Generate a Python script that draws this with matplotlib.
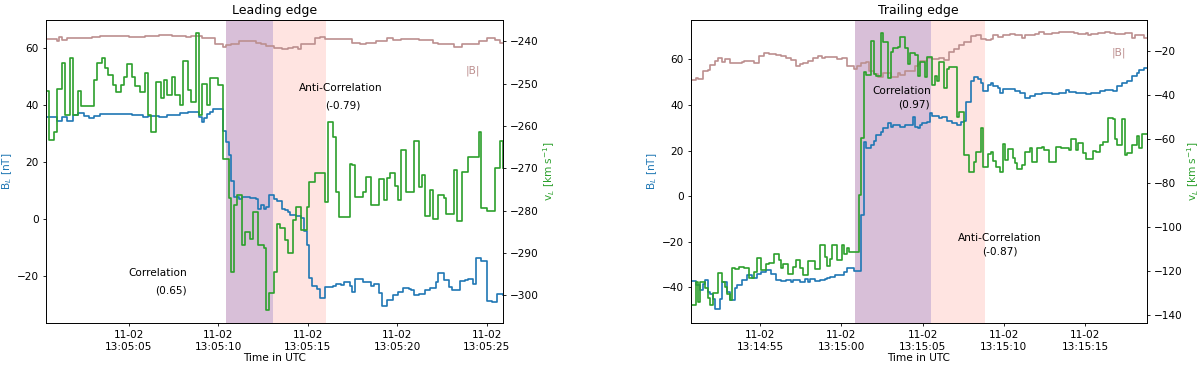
import numpy as np
import matplotlib
matplotlib.use('Agg')
import matplotlib.pyplot as plt
import matplotlib.dates as mdates

plt.rcParams['font.size'] = 7.6
plt.rcParams['axes.titlesize'] = 9
plt.rcParams['lines.linewidth'] = 1.2
plt.rcParams['axes.linewidth'] = 0.6
for a in ('xtick', 'ytick'):
    plt.rcParams[a + '.major.size'] = 2.5
    plt.rcParams[a + '.major.width'] = 0.6
    plt.rcParams[a + '.major.pad'] = 2.5

# ---------------- data: leading edge (150 ms cadence) ----------------
lead_start = '2015-11-02T13:05:00.380'
lead_vL = [
    -251.8, -263.3, -263.3, -261.5, -251.2, -251.2, -245.1, -257.5, -257.5, -243.9,
    -257.5, -257.5, -251.8, -255.3, -255.3, -255.3, -255.3, -255.3, -249.2, -245.1,
    -245.1, -243.9, -246.4, -247.9, -247.9, -250.4, -252.0, -252.0, -250.4, -248.4,
    -245.5, -245.5, -248.4, -250.5, -250.5, -252.0, -252.0, -247.6, -257.5, -261.5,
    -261.5, -249.6, -249.6, -253.4, -249.2, -252.6, -252.6, -248.4, -252.7, -252.7,
    -255.1, -244.7, -244.7, -251.6, -254.3, -254.3, -238.2, -257.5, -250.0, -250.0,
    -255.1, -248.6, -248.6, -248.6, -250.4, -250.4, -267.7, -267.7, -277.0, -294.4,
    -278.7, -276.3, -276.3, -288.1, -285.0, -285.0, -286.7, -280.3, -280.3, -288.0,
    -288.0, -288.9, -303.4, -299.5, -299.5, -294.4, -283.2, -284.2, -284.2, -287.0,
    -290.1, -290.1, -282.2, -279.1, -279.1, -284.6, -284.6, -279.1, -273.2, -273.2,
    -271.2, -271.2, -271.2, -271.2, -277.9, -259.0, -259.0, -262.6, -275.5, -281.4,
    -281.4, -281.4, -281.4, -269.0, -269.2, -276.7, -276.7, -276.7, -275.5, -272.0,
    -272.0, -278.7, -278.7, -278.7, -272.6, -272.6, -277.5, -272.4, -271.0, -271.0,
    -274.1, -277.5, -265.7, -265.7, -275.5, -275.5, -275.5, -263.6, -263.6, -274.4,
    -271.6, -281.2, -281.2, -275.1, -282.0, -282.0, -276.2, -276.2, -277.1, -280.9,
    -280.9, -280.9, -270.4, -282.5, -282.5, -270.8, -270.8, -267.3, -267.3, -267.3,
    -267.3, -261.4, -279.3, -279.3, -280.1, -280.1, -280.1, -270.0, -270.0, -263.6,
    -270.0,
]
lead_BL = [
    35.8, 35.8, 35.8, 35.8, 34.4, 34.4, 36.0, 36.0, 34.3, 34.3,
    36.5, 36.5, 37.2, 37.2, 36.1, 36.1, 35.6, 35.6, 36.2, 36.2,
    36.9, 36.9, 36.9, 36.9, 36.9, 37.0, 37.0, 37.0, 37.0, 37.0,
    37.0, 37.0, 36.6, 36.6, 36.6, 36.6, 35.9, 35.9, 36.2, 36.2,
    36.2, 36.2, 35.8, 35.8, 35.8, 36.6, 36.6, 36.6, 36.6, 36.6,
    37.2, 37.2, 37.2, 37.6, 37.6, 37.6, 37.6, 36.0, 34.0, 35.6,
    36.8, 37.7, 38.5, 38.5, 38.8, 38.5, 30.9, 27.0, 22.7, 13.3,
    7.7, 7.7, 7.3, 7.7, 7.7, 7.7, 7.5, 7.5, 7.1, 3.5,
    4.9, 3.8, 4.5, 8.4, 8.4, 7.2, 6.5, 6.3, 3.8, 3.3,
    2.6, 1.6, 1.6, 1.1, 1.1, 0.3, -4.2, -8.9, -20.6, -23.5,
    -23.5, -24.5, -27.5, -27.5, -23.7, -23.7, -23.7, -23.5, -22.7, -22.7,
    -22.9, -21.8, -21.8, -23.5, -25.5, -21.0, -21.0, -21.0, -21.8, -21.8,
    -21.8, -23.2, -22.7, -22.7, -25.8, -30.5, -30.5, -28.2, -28.2, -26.5,
    -26.5, -25.3, -25.3, -24.1, -24.1, -24.3, -24.8, -26.5, -26.5, -26.0,
    -26.0, -24.8, -24.8, -24.1, -24.1, -21.8, -18.8, -18.8, -21.3, -21.3,
    -23.7, -24.8, -24.8, -24.8, -21.6, -21.6, -21.3, -20.8, -20.8, -22.7,
    -13.5, -13.5, -14.6, -14.6, -28.6, -28.6, -29.0, -29.0, -26.1, -26.1,
    -26.5,
]
lead_Bmag = [
    63.1, 63.1, 63.1, 63.1, 62.5, 63.9, 62.7, 62.9, 63.4, 63.4,
    63.6, 63.6, 63.6, 63.6, 63.6, 63.6, 63.6, 63.9, 63.9, 63.9,
    64.1, 64.1, 64.1, 64.1, 64.1, 64.2, 64.2, 64.2, 64.2, 64.1,
    64.1, 63.9, 63.9, 63.9, 63.9, 63.9, 63.9, 64.3, 64.3, 64.3,
    64.3, 64.3, 64.6, 64.6, 64.6, 64.6, 64.6, 64.2, 64.2, 64.2,
    64.2, 64.2, 63.9, 63.9, 64.1, 64.1, 64.1, 64.1, 63.4, 63.4,
    63.4, 63.4, 63.4, 61.3, 61.3, 61.3, 60.4, 61.1, 61.1, 61.5,
    61.5, 61.5, 62.3, 62.3, 62.3, 62.3, 62.5, 62.5, 61.9, 61.9,
    61.3, 61.3, 60.7, 60.7, 60.7, 60.1, 60.1, 60.1, 59.7, 59.7,
    60.1, 60.1, 60.5, 60.5, 59.8, 61.5, 61.5, 61.5, 61.5, 61.5,
    63.4, 63.4, 63.9, 63.9, 63.0, 63.0, 63.0, 63.0, 63.0, 63.0,
    63.0, 63.0, 63.0, 63.0, 61.9, 61.9, 61.9, 61.3, 61.3, 61.9,
    61.9, 61.9, 61.9, 62.5, 62.5, 62.5, 62.5, 63.4, 63.4, 62.7,
    62.7, 62.7, 63.1, 63.1, 63.1, 63.1, 63.1, 63.1, 63.1, 62.7,
    62.7, 62.7, 62.7, 62.7, 61.7, 61.7, 61.5, 61.5, 61.5, 61.5,
    61.5, 61.5, 60.5, 60.5, 60.5, 61.5, 61.5, 61.5, 61.5, 61.5,
    61.5, 62.3, 62.3, 62.3, 63.4, 63.4, 63.4, 62.7, 62.7, 61.9,
    61.9,
]

# ---------------- data: trailing edge (150 ms cadence) ----------------
trail_start = '2015-11-02T13:14:50.740'
trail_vL = [
    -135.6, -135.6, -125.0, -134.1, -125.0, -125.0, -128.0, -132.6, -135.6, -130.3,
    -130.3, -121.2, -121.2, -125.0, -127.5, -130.6, -133.3, -118.9, -119.2, -119.2,
    -118.2, -118.2, -118.9, -118.9, -123.4, -123.4, -120.4, -114.0, -114.0, -119.6,
    -119.6, -117.0, -116.6, -116.6, -112.5, -112.5, -115.1, -118.9, -117.0, -117.0,
    -121.6, -121.6, -118.2, -115.1, -115.1, -118.9, -121.9, -121.9, -115.8, -115.8,
    -115.8, -119.2, -119.2, -108.3, -108.3, -113.6, -117.7, -114.9, -108.3, -108.3,
    -115.1, -115.1, -108.3, -112.6, -109.8, -111.6, -111.6, -111.6, -111.6, -85.5,
    -59.4, -29.7, -30.9, -30.9, -15.4, -30.6, -31.2, -31.2, -12.0, -15.8,
    -15.8, -32.4, -20.3, -18.8, -18.8, -18.0, -13.5, -13.5, -18.8, -26.1,
    -20.8, -20.8, -21.8, -31.2, -24.9, -24.9, -32.0, -22.6, -22.6, -35.5,
    -31.5, -33.5, -24.9, -24.9, -37.0, -28.2, -27.1, -27.1, -27.1, -49.9,
    -47.6, -47.6, -67.3, -67.3, -74.9, -74.9, -70.4, -65.8, -65.8, -55.2,
    -72.6, -72.6, -66.7, -66.0, -70.0, -72.6, -72.6, -74.9, -62.5, -69.6,
    -64.6, -64.6, -68.9, -71.2, -73.7, -73.7, -71.9, -66.1, -66.1, -64.0,
    -70.6, -70.6, -64.0, -64.0, -63.5, -65.1, -65.1, -70.4, -70.4, -70.4,
    -63.5, -63.5, -64.3, -64.3, -64.3, -65.1, -60.0, -60.0, -65.1, -62.0,
    -62.0, -66.5, -69.1, -69.1, -69.1, -65.5, -65.8, -65.8, -62.8, -61.3,
    -61.3, -50.6, -50.6, -50.9, -60.0, -62.8, -62.8, -50.9, -67.3, -66.5,
    -66.5, -62.8, -62.8, -58.5, -64.3, -57.9, -57.9, -57.9,
]
trail_BL = [
    -37.4, -37.4, -39.2, -39.2, -41.0, -38.5, -36.7, -41.9, -43.0, -45.0,
    -49.4, -49.4, -45.0, -37.7, -37.7, -42.2, -45.5, -45.5, -40.4, -39.2,
    -39.2, -36.7, -36.7, -34.8, -34.8, -36.0, -36.0, -34.2, -34.2, -33.3,
    -33.3, -32.5, -32.5, -34.0, -34.0, -37.0, -37.0, -37.4, -37.4, -37.0,
    -37.0, -37.8, -37.0, -37.0, -37.0, -37.6, -37.6, -36.4, -37.6, -36.5,
    -36.5, -37.3, -37.3, -36.8, -36.8, -36.3, -36.0, -35.5, -35.5, -34.5,
    -34.5, -34.6, -34.6, -33.5, -31.6, -31.6, -31.6, -33.0, -33.0, -33.0,
    -8.2, 23.9, 21.0, 21.0, 22.5, 24.3, 26.9, 26.9, 28.3, 29.8,
    29.8, 32.0, 30.5, 31.0, 31.0, 31.0, 30.5, 30.5, 31.0, 31.0,
    31.2, 34.7, 30.5, 29.8, 31.2, 31.9, 31.9, 32.7, 36.3, 35.3,
    35.3, 35.3, 34.2, 34.9, 34.9, 33.0, 33.0, 31.9, 31.9, 31.2,
    31.2, 32.7, 32.9, 41.5, 41.5, 50.3, 52.1, 52.1, 51.2, 49.6,
    46.3, 46.3, 48.6, 49.5, 48.1, 48.1, 47.5, 45.1, 47.0, 47.0,
    47.0, 47.0, 47.0, 46.1, 46.1, 45.1, 45.1, 43.2, 43.2, 44.1,
    44.1, 44.6, 44.6, 44.6, 45.1, 45.1, 45.1, 45.1, 44.6, 44.6,
    44.6, 45.1, 45.1, 45.1, 46.6, 45.8, 45.8, 45.8, 45.1, 45.1,
    45.1, 45.1, 44.8, 44.8, 45.1, 45.1, 45.1, 45.1, 46.1, 46.1,
    46.6, 46.6, 46.6, 46.1, 46.1, 48.1, 48.1, 49.6, 49.6, 50.3,
    50.3, 52.5, 52.5, 54.0, 55.4, 55.4, 56.2, 56.2,
]
trail_Bmag = [
    51.0, 51.0, 52.0, 51.3, 51.3, 55.0, 55.0, 55.4, 57.6, 57.6,
    59.5, 60.8, 60.8, 59.0, 60.2, 60.2, 58.6, 58.6, 58.2, 58.2,
    58.2, 59.0, 59.3, 59.3, 59.3, 59.3, 58.4, 58.4, 61.3, 61.3,
    62.9, 62.9, 62.3, 62.3, 62.3, 62.0, 62.0, 61.6, 61.6, 60.8,
    60.8, 59.8, 59.8, 56.9, 56.9, 57.9, 58.4, 58.4, 59.3, 59.3,
    60.8, 60.8, 61.6, 61.6, 60.8, 61.2, 61.2, 61.2, 60.9, 60.9,
    60.2, 60.2, 60.8, 60.8, 56.9, 56.9, 56.9, 55.9, 57.3, 57.3,
    58.4, 58.4, 59.0, 55.0, 55.0, 53.5, 53.5, 52.1, 52.1, 54.0,
    54.0, 54.0, 52.1, 52.1, 52.1, 54.0, 53.3, 53.3, 54.8, 54.8,
    55.0, 55.0, 56.9, 57.9, 59.1, 59.1, 59.1, 60.8, 60.8, 60.2,
    60.2, 60.2, 60.8, 60.8, 59.8, 59.8, 63.2, 63.2, 64.7, 64.7,
    66.2, 66.2, 67.6, 67.6, 67.6, 70.1, 70.1, 70.5, 70.5, 69.1,
    69.1, 68.4, 68.4, 69.1, 70.5, 70.5, 70.0, 70.0, 70.5, 70.5,
    70.5, 71.1, 71.1, 70.5, 70.5, 70.5, 69.3, 70.5, 70.5, 70.5,
    70.5, 71.1, 71.1, 71.9, 71.9, 71.1, 71.1, 71.1, 71.5, 71.5,
    71.5, 71.9, 71.9, 71.9, 72.2, 72.2, 72.2, 71.5, 71.5, 71.1,
    71.1, 71.1, 71.5, 70.5, 71.1, 71.1, 71.1, 71.5, 71.5, 71.5,
    71.9, 71.9, 71.5, 71.5, 71.1, 71.1, 71.1, 71.1, 71.5, 71.5,
    71.5, 69.3, 70.5, 70.5, 70.8, 70.8, 69.6, 69.6,
]

# correlation intervals (shaded) and labels
lead_corr_span = ['2015-11-02T13:05:10.420', '2015-11-02T13:05:13.070']
lead_anti_span = ['2015-11-02T13:05:13.070', '2015-11-02T13:05:16.030']
trail_corr_span = ['2015-11-02T13:15:00.820', '2015-11-02T13:15:05.530']
trail_anti_span = ['2015-11-02T13:15:05.530', '2015-11-02T13:15:08.850']
lead_corr, lead_anti = '0.65', '-0.79'
trail_corr, trail_anti = '0.97', '-0.87'

C_BL = '#1f77b4'
C_VL = '#2ca02c'
C_BM = 'rosybrown'


def time_axis(start, n):
    return np.datetime64(start) + np.arange(n) * np.timedelta64(150, 'ms')


def draw_panel(ax, title, start, BL, Bmag, vL, spans, vlim, blim, texts):
    t = time_axis(start, len(BL))
    ax.axvspan(np.datetime64(spans[0][0]), np.datetime64(spans[0][1]),
               color='thistle', lw=0)
    ax.axvspan(np.datetime64(spans[1][0]), np.datetime64(spans[1][1]),
               color='mistyrose', lw=0)
    ax.step(t, BL, where='post', c=C_BL)
    ax.step(t, Bmag, where='post', c=C_BM)
    ax.set_ylim(*blim)
    ax.set_xlim(t[0], t[-1])
    ax.set_ylabel('B$_L$ [nT]', color=C_BL, labelpad=2)
    ax.set_xlabel('Time in UTC', labelpad=1)
    ax.set_title(title, pad=4)
    ax.xaxis.set_major_locator(mdates.SecondLocator(bysecond=range(0, 60, 5)))
    ax.xaxis.set_major_formatter(mdates.DateFormatter('%m-%d\n%H:%M:%S'))

    ax2 = ax.twinx()
    ax2.step(t, vL, where='post', c=C_VL)
    ax2.set_ylim(*vlim)
    ax2.set_ylabel('v$_L$ [km s$^{-1}$]', color=C_VL, labelpad=2)

    for (x, y, s, c) in texts:
        ax.text(x, y, s, color=c, ha='center', va='center', transform=ax.transAxes)
    return ax, ax2


fig = plt.figure(figsize=(12, 3.68), dpi=100)
ax_l = fig.add_axes([0.0383, 0.1223, 0.3806, 0.8247])
ax_r = fig.add_axes([0.5756, 0.1223, 0.3800, 0.8247])

draw_panel(ax_l, 'Leading edge', lead_start, lead_BL, lead_Bmag, lead_vL,
           [lead_corr_span, lead_anti_span], (-306.5, -234.9), (-36.3, 70.0),
           [(0.245, 0.165, 'Correlation', 'k'),
            (0.274, 0.106, f'({lead_corr})', 'k'),
            (0.645, 0.774, 'Anti-Correlation', 'k'),
            (0.651, 0.715, f'({lead_anti})', 'k'),
            (0.934, 0.830, '|B|', C_BM)])

draw_panel(ax_r, 'Trailing edge', trail_start, trail_BL, trail_Bmag, trail_vL,
           [trail_corr_span, trail_anti_span], (-143.8, -5.7), (-55.7, 77.5),
           [(0.463, 0.765, 'Correlation', 'k'),
            (0.489, 0.721, f'({trail_corr})', 'k'),
            (0.677, 0.280, 'Anti-Correlation', 'k'),
            (0.677, 0.235, f'({trail_anti})', 'k'),
            (0.939, 0.889, '|B|', C_BM)])

fig.savefig('out.png', dpi=100)
